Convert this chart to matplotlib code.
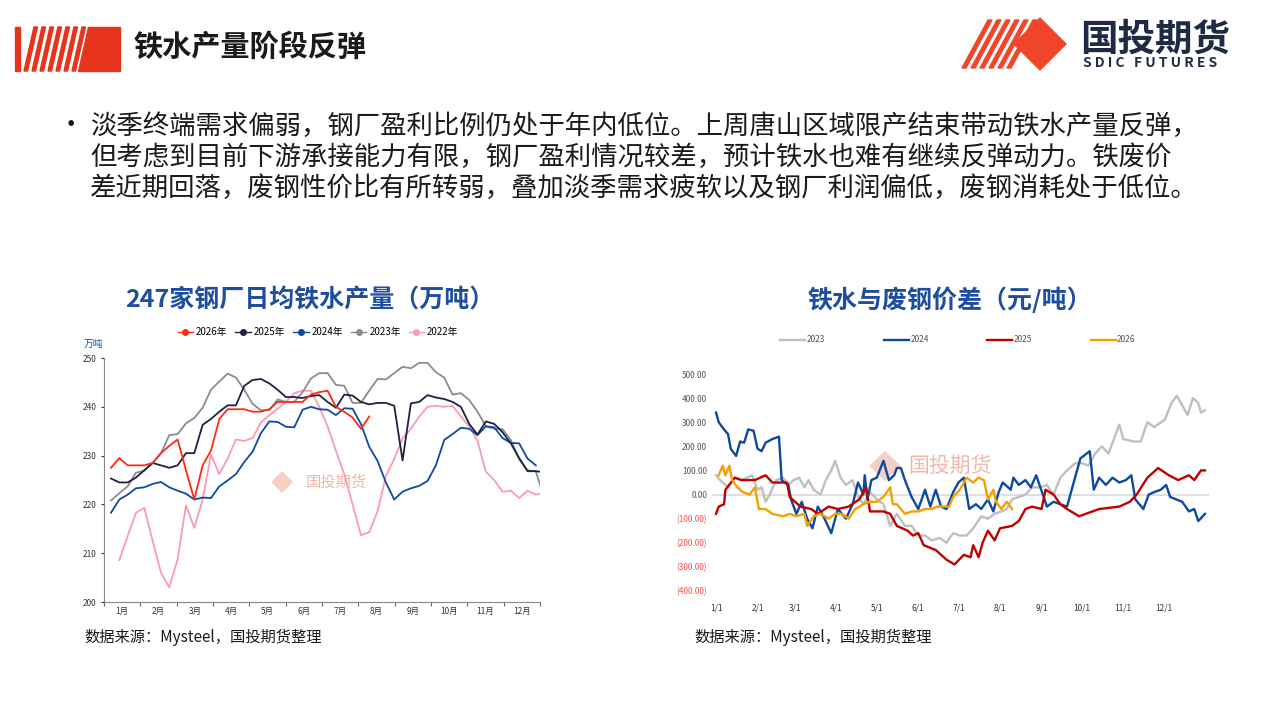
import matplotlib
matplotlib.use("Agg")
import matplotlib.pyplot as plt
import numpy as np
from matplotlib.patches import Polygon, Rectangle

plt.rcParams['font.family'] = ['Noto Sans CJK SC', 'DejaVu Sans']

# ---------- left chart data (weekly, 万吨) ----------
months_left = ['1月','2月','3月','4月','5月','6月','7月','8月','9月','10月','11月','12月']
y2026 = [227.5,229.5,228,228,228,228.5,230.5,232,233.3,227,221,228,231,237.5,239.5,239.5,239.5,239,239,239.5,241,241,241,241,242.5,243,243.3,240,239,237.8,235.5,238]
y2025 = [225.3,224.5,224.5,225.5,227,228.5,228,227.5,228,230.5,230.5,236.3,237.5,239,240.3,240.3,244.3,245.5,245.7,244.8,243.5,242,242,241.8,242.2,242.4,241,239.8,242.5,242.3,241,240.5,240.8,240.8,240.2,229,240.7,241,242.4,241.9,241.6,241,240,236.5,234.3,237,236.5,234.8,232.5,229.5,226.8,226.8,226.6]
y2024 = [218.3,221,222,223.3,223.5,224.2,224.6,223.5,222.8,222.2,221,221.4,221.3,223.7,224.9,226.2,228.7,230.8,234.6,237,236.9,235.9,235.8,239.4,240,239.5,239.4,238.3,239.7,239.6,236.5,231.8,228.9,224.5,221,222.6,223.3,223.8,224.8,228,233.2,234.4,235.7,235.5,234.2,236,235.8,233.6,232.6,232.5,229.4,228]
y2023 = [220.8,222.3,223.7,226.5,226.9,228.5,230.5,234.2,234.4,236.6,237.7,239.8,243.5,245.2,246.8,246,243.5,240.6,239.3,239.3,241.5,241,241,243,245.8,246.9,246.9,244.5,244.3,240.8,240.8,243.3,245.7,245.6,246.9,248.2,247.9,249,249,247.1,246,242.5,242.8,241.4,239,236,235.5,235.4,233.2,229.2,227,226.8,221.3]
y2022 = [208.6,213.5,218.3,219.3,212.5,206,203,208.8,219.8,215.2,221,230.2,226.2,229.4,233.3,233,233.6,236.8,238.3,239.6,241,242.8,243.3,243.3,240,236,231,226.2,220,213.7,214.3,218.6,225.8,229.3,233.5,235.5,238,240,240.2,240,240.2,238,236,233,226.7,225,222.6,222.8,221.3,222.8,222,222.3]

# ---------- right chart data (day of year, 元/吨) ----------
d2023 = [0,3,9,14,19,27,31,34,37,40,45,50,54,58,62,66,69,73,78,82,86,89,93,97,102,106,110,115,120,125,130,135,141,146,151,156,161,167,172,177,182,187,192,198,203,208,213,217,221,226,231,236,242,247,252,257,262,268,273,278,283,288,293,299,301,304,312,317,322,327,335,340,344,348,352,356,360,362,365]
v2023 = [80,60,30,70,60,80,20,30,-30,0,60,70,40,60,70,30,60,20,0,60,100,140,70,40,60,-10,-40,10,-20,-40,-130,-80,-130,-130,-170,-170,-190,-180,-200,-160,-170,-170,-140,-90,-100,-80,-70,-60,-20,-10,0,30,30,40,0,70,100,130,130,120,170,200,170,260,290,230,220,220,300,280,310,380,410,370,330,400,380,340,350]
d2024 = [0,2,6,9,11,15,18,21,24,28,31,34,37,42,47,49,51,54,56,60,64,68,72,76,81,86,91,97,102,106,110,111,113,116,120,125,129,133,135,138,141,146,151,156,160,164,168,172,177,181,185,189,194,198,203,207,211,214,220,222,226,231,235,239,244,247,252,257,262,268,272,279,282,286,291,296,301,306,310,313,319,323,327,332,336,339,348,353,357,360,365]
v2024 = [340,300,270,250,190,160,220,215,270,265,190,180,215,230,240,60,50,40,-20,-80,-30,-100,-140,-50,-100,-160,-60,-100,-40,50,0,80,-20,60,70,140,60,80,110,110,60,-10,-60,20,-50,20,-50,-60,10,50,70,-60,-40,-60,-20,-70,10,50,20,70,40,60,30,80,0,-50,-30,-40,-50,70,150,180,20,70,40,70,50,60,80,-20,-60,0,10,20,40,-10,-30,-70,-60,-110,-80]
d2025 = [0,2,6,7,14,19,29,37,42,53,55,63,71,76,84,91,99,107,112,115,125,130,135,143,147,151,155,164,172,178,185,190,192,196,199,203,208,212,221,226,231,236,243,246,252,257,262,271,286,301,309,314,322,330,338,345,353,357,362,365]
v2025 = [-80,-50,-40,20,70,60,60,80,50,50,-10,-50,-60,-80,-50,-60,-50,-20,30,-70,-70,-80,-130,-150,-170,-160,-210,-230,-270,-290,-250,-260,-210,-260,-200,-150,-190,-140,-130,-110,-60,-50,-60,20,0,-40,-60,-90,-60,-50,-30,0,70,110,80,60,80,60,100,100]
d2026 = [2,5,7,10,12,16,20,25,29,32,37,42,50,55,60,66,68,73,78,84,89,94,99,104,110,115,120,125,130,132,135,141,146,151,156,161,165,169,174,177,182,187,192,196,200,203,207,209,213,217,221]
v2026 = [80,120,80,120,60,30,10,0,30,-60,-60,-80,-90,-80,-90,-80,-130,-90,-80,-100,-80,-80,-100,-60,-40,-30,-30,-10,30,-40,-40,-80,-70,-70,-60,-60,-50,-50,-50,-10,20,70,50,70,60,-20,20,-30,-60,-30,-60]
month_days = [0,31,59,90,120,151,181,212,243,273,304,334]
month_labels_right = ['1/1','2/1','3/1','4/1','5/1','6/1','7/1','8/1','9/1','10/1','11/1','12/1']

fig = plt.figure(figsize=(12.8, 7.2), dpi=100)
W, H = 1280, 720
def fx(x): return x / W
def fy(y): return 1 - y / H

# ---------- header ----------
hdr = fig.add_axes([0, 0, 1, 1], zorder=-1)
hdr.set_xlim(0, W); hdr.set_ylim(H, 0); hdr.axis('off')
red = '#e8341c'
hdr.add_patch(Rectangle((15, 27), 5, 44, color=red))
for i in range(7):
    x0 = 24 + i * 8
    hdr.add_patch(Polygon([[x0, 71], [x0 + 3.5, 71], [x0 + 3.5 + 10, 27], [x0 + 10, 27]], color=red))
hdr.add_patch(Polygon([[88, 27], [120, 27], [120, 71], [78, 71]], color=red))
hdr.text(133, 47, '铁水产量阶段反弹', fontsize=21, fontweight='bold', color='#1a1a1a', va='center')
# right logo
for i in range(6):
    x0 = 962 + i * 9
    hdr.add_patch(Polygon([[x0, 68], [x0 + 4, 68], [x0 + 30, 20], [x0 + 26, 20]], color='#f0452a'))
hdr.add_patch(Polygon([[1040, 18], [1066, 44], [1040, 70], [1014, 44]], color='#f0452a'))
hdr.text(1080, 39, '国投期货', fontsize=27, fontweight='bold', color='#1f2a44', va='center')
hdr.text(1083, 63, 'S D I C   F U T U R E S', fontsize=10, fontweight='bold', color='#1f2a44', va='center')

lines_txt = ['淡季终端需求偏弱，钢厂盈利比例仍处于年内低位。上周唐山区域限产结束带动铁水产量反弹，',
             '但考虑到目前下游承接能力有限，钢厂盈利情况较差，预计铁水也难有继续反弹动力。铁废价',
             '差近期回落，废钢性价比有所转弱，叠加淡季需求疲软以及钢厂利润偏低，废钢消耗处于低位。']
hdr.text(58, 126, '•', fontsize=19, color='#1a1a1a', va='center')
for i, t in enumerate(lines_txt):
    hdr.text(90, 126 + i * 31, t, fontsize=19, color='#1a1a1a', va='center')

hdr.text(310, 300, '247家钢厂日均铁水产量（万吨）', fontsize=18, color='#1f4e9e', ha='center', va='center', fontweight='bold')
hdr.text(950, 300, '铁水与废钢价差（元/吨）', fontsize=18, color='#1f4e9e', ha='center', va='center', fontweight='bold')
hdr.text(84, 637, '数据来源：Mysteel，国投期货整理', fontsize=11, color='#1a1a1a', va='center')
hdr.text(694, 637, '数据来源：Mysteel，国投期货整理', fontsize=11, color='#1a1a1a', va='center')
hdr.text(84, 344, '万吨', fontsize=7, color='#1f4e9e', va='center')
# watermarks
hdr.text(306, 482, '国投期货', fontsize=11, color='#f0b8aa', va='center')
hdr.add_patch(Polygon([[282, 472], [292, 482], [282, 492], [272, 482]], color='#f6cfc4'))
hdr.text(908, 466, '国投期货', fontsize=15, color='#f0b8aa', va='center')
hdr.add_patch(Polygon([[885, 452], [900, 466], [885, 480], [870, 466]], color='#f6cfc4'))

# ---------- left chart ----------
axL = fig.add_axes([fx(104), fy(602), fx(436), 244 / H])
axL.patch.set_alpha(0)
series = [(y2026, 0, '#ff2a12', '2026年'), (y2025, 0, '#1c2340', '2025年'),
          (y2024, 0, '#0d4aa6', '2024年'), (y2023, 0, '#8c8c8c', '2023年'),
          (y2022, 1, '#f99bb4', '2022年')]
for vals, off, c, lab in series[::-1]:
    axL.plot(np.arange(len(vals)) + off, vals, color=c, lw=1.3)
step = 52.34 / 12
edges = [-0.84 + k * step for k in range(13)]
axL.set_xlim(edges[0], edges[-1])
axL.set_ylim(200, 250)
axL.set_yticks([200, 210, 220, 230, 240, 250])
axL.tick_params(axis='y', labelsize=6, length=2, colors='#333333')
axL.set_xticks(edges)
axL.set_xticklabels([])
axL.tick_params(axis='x', length=3, colors='#666666')
axL.set_xticks([e + step / 2 for e in edges[:-1]], minor=True)
axL.set_xticklabels(months_left, minor=True, fontsize=6, color='#333333')
axL.tick_params(axis='x', which='minor', length=0)
for s in ['top', 'right']:
    axL.spines[s].set_visible(False)
for s in ['left', 'bottom']:
    axL.spines[s].set_color('#888888')
handles = [plt.Line2D([], [], color=c, marker='o', ms=4, lw=1) for _, _, c, _ in series]
fig.legend(handles, [s[3] for s in series], loc='center', bbox_to_anchor=(fx(318), fy(332)),
           ncol=5, frameon=False, fontsize=7, handlelength=1.6, columnspacing=0.8, handletextpad=0.3)

# ---------- right chart ----------
axR = fig.add_axes([fx(712), fy(591), 497 / W, 217 / H])
axR.patch.set_alpha(0)
axR.axhline(0, color='#d9d9d9', lw=1.2)
for d, v, c, lab in [(d2023, v2023, '#bfbfbf', '2023'), (d2024, v2024, '#0b4aa0', '2024'),
                     (d2025, v2025, '#c00000', '2025'), (d2026, v2026, '#f5a000', '2026')]:
    axR.plot(d, v, color=c, lw=1.7, label=lab)
axR.set_xlim(-3, 368)
axR.set_ylim(-400, 500)
axR.set_yticks(range(-400, 501, 100))
labs = []
for t in range(-400, 501, 100):
    labs.append('(%.2f)' % abs(t) if t < 0 else '%.2f' % t)
axR.set_yticklabels(labs, fontsize=6)
for t, lab in zip(axR.get_yticklabels(), labs):
    t.set_color('#ff4d4d' if lab.startswith('(') else '#555555')
axR.tick_params(axis='y', length=0)
axR.set_xticks(month_days)
axR.set_xticklabels(month_labels_right, fontsize=6, color='#333333')
axR.tick_params(axis='x', length=0, pad=9)
for s in axR.spines.values():
    s.set_visible(False)
fig.legend(*axR.get_legend_handles_labels(), loc='center', bbox_to_anchor=(fx(958), fy(340)),
           ncol=4, frameon=False, fontsize=6, handlelength=3, columnspacing=7, handletextpad=0.2,
           labelcolor='#555555')

fig.savefig('out.png', dpi=100)
